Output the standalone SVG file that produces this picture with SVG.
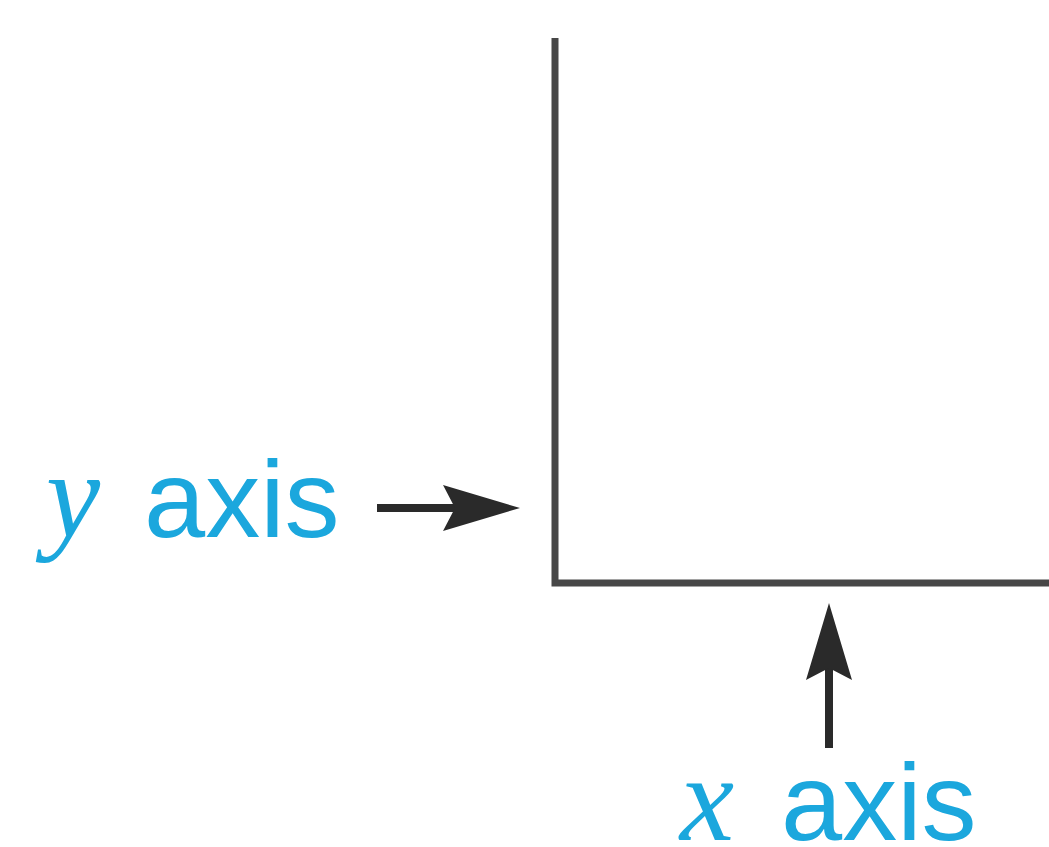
<svg xmlns="http://www.w3.org/2000/svg" width="1049" height="847" viewBox="0 0 1049 847">
  <style>
    .axis { stroke: #474747; stroke-width: 7; fill: none; stroke-linecap: butt; stroke-linejoin: miter; }
    .conn { stroke: #2a2a2a; stroke-width: 8; fill: none; }
    .var { font-family: "Liberation Serif", "Times New Roman", serif; font-style: italic; font-size: 122px; fill: #1ba7dd; }
    .word { font-family: "Liberation Sans", Arial, sans-serif; font-size: 110px; fill: #1ba7dd; }
  </style>
  <defs>
    <marker id="head" markerUnits="userSpaceOnUse" markerWidth="78" markerHeight="48" viewBox="0 0 78 48" refX="14" refY="24" orient="auto">
      <path d="M0,1 L77,24 L0,47 L12,24 Z" fill="#2a2a2a"/>
    </marker>
  </defs>
  <rect width="1049" height="847" fill="#ffffff"/>
  <g id="axes">
    <path class="axis" d="M555,38 L555,583 L1049,583"/>
  </g>
  <g id="y-label">
    <text class="var" x="46" y="537">y</text>
    <text class="word" x="144" y="537">axis</text>
  </g>
  <g id="x-label">
    <text class="var" x="680" y="840">x</text>
    <text class="word" x="781" y="840">axis</text>
  </g>
  <g id="connectors">
    <line class="conn" x1="377" y1="508" x2="457" y2="508" marker-end="url(#head)"/>
    <line class="conn" x1="829" y1="748" x2="829" y2="666" marker-end="url(#head)"/>
  </g>
</svg>
